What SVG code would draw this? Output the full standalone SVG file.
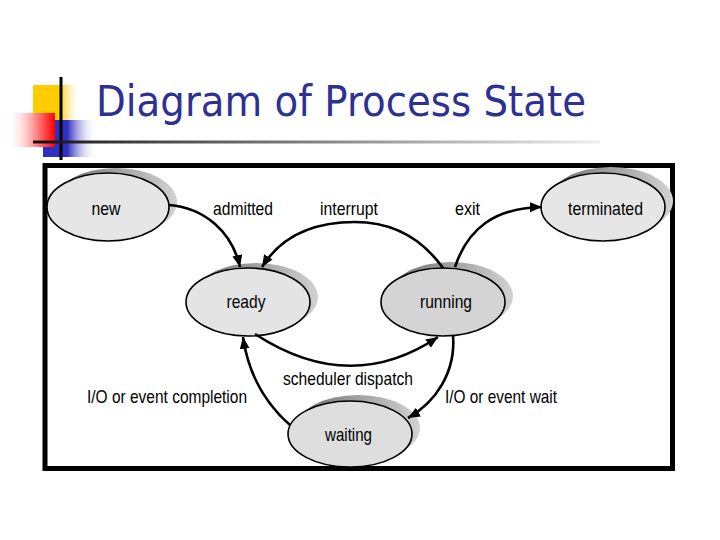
<svg xmlns="http://www.w3.org/2000/svg" width="720" height="540" viewBox="0 0 720 540">
<defs>
<linearGradient id="gY" x1="0" y1="0" x2="1" y2="0"><stop offset="0" stop-color="#ffcc00"/><stop offset="0.55" stop-color="#ffcc00"/><stop offset="1" stop-color="#ffffff" stop-opacity="0"/></linearGradient>
<linearGradient id="gB" x1="0" y1="0" x2="1" y2="0"><stop offset="0" stop-color="#2f2fc0"/><stop offset="0.45" stop-color="#2f2fc0"/><stop offset="1" stop-color="#ffffff" stop-opacity="0"/></linearGradient>
<linearGradient id="gR" x1="0" y1="0" x2="1" y2="0"><stop offset="0" stop-color="#ffffff" stop-opacity="0.3"/><stop offset="0.6" stop-color="#ff8080"/><stop offset="1" stop-color="#ff0000"/></linearGradient>
<linearGradient id="gL" x1="0" y1="0" x2="1" y2="0"><stop offset="0" stop-color="#111111"/><stop offset="0.2" stop-color="#444444"/><stop offset="1" stop-color="#eeeeee"/></linearGradient>
<linearGradient id="gS" x1="0" y1="0" x2="1" y2="0"><stop offset="0" stop-color="#6e6e6e"/><stop offset="1" stop-color="#d2d2d2"/></linearGradient>
<marker id="arr" markerUnits="userSpaceOnUse" markerWidth="14" markerHeight="12" refX="12" refY="5" orient="auto"><path d="M0,0 L12,5 L0,10 Z" fill="#000"/></marker>
<style>
.shadow{fill:url(#gS);stroke:none}
.node{stroke:#000;stroke-width:1.6}
.lbl{font-family:"Liberation Sans",Arial,sans-serif;font-size:19px;fill:#000}
.edge{fill:none;stroke:#000;stroke-width:2.6;marker-end:url(#arr)}
</style>
</defs>
<rect width="720" height="540" fill="#ffffff"/>
<g id="logo">
<rect x="33" y="85" width="48" height="35" fill="url(#gY)"/>
<rect x="43" y="120" width="54" height="37" fill="url(#gB)"/>
<rect x="10" y="113" width="45" height="34" fill="url(#gR)"/>
<rect x="59.5" y="77" width="3" height="83" fill="#000"/>
<rect x="33" y="140.5" width="567" height="3" fill="url(#gL)"/>
</g>
<text id="title" x="96" y="116" font-family="'DejaVu Sans',Tahoma,sans-serif" font-size="43" fill="#2e3192" textLength="490" lengthAdjust="spacingAndGlyphs">Diagram of Process State</text>
<rect id="frame" x="45" y="165.5" width="627.5" height="303" fill="none" stroke="#000" stroke-width="5"/>
<g id="new">
<ellipse class="shadow" cx="116" cy="202" rx="61" ry="34"/>
<ellipse class="node" cx="108" cy="207" rx="61" ry="34" fill="#e6e6e6"/>
<text class="lbl" x="106" y="215" text-anchor="middle" textLength="29" lengthAdjust="spacingAndGlyphs">new</text>
</g>
<g id="ready">
<ellipse class="shadow" cx="256" cy="297" rx="62" ry="34"/>
<ellipse class="node" cx="248" cy="302" rx="62" ry="34" fill="#e4e4e4"/>
<text class="lbl" x="246" y="308" text-anchor="middle" textLength="39" lengthAdjust="spacingAndGlyphs">ready</text>
</g>
<g id="running">
<ellipse class="shadow" cx="451" cy="296" rx="62" ry="34"/>
<ellipse class="node" cx="443" cy="302" rx="62" ry="34" fill="#d4d4d4"/>
<text class="lbl" x="446" y="308" text-anchor="middle" textLength="52" lengthAdjust="spacingAndGlyphs">running</text>
</g>
<g id="terminated">
<ellipse class="shadow" cx="611" cy="201" rx="62" ry="34"/>
<ellipse class="node" cx="603" cy="207" rx="62" ry="34" fill="#e6e6e6"/>
<text class="lbl" x="605.5" y="215" text-anchor="middle" textLength="75" lengthAdjust="spacingAndGlyphs">terminated</text>
</g>
<g id="waiting">
<ellipse class="shadow" cx="358" cy="428" rx="62" ry="33"/>
<ellipse class="node" cx="350" cy="434" rx="62" ry="33" fill="#dedede"/>
<text class="lbl" x="348.5" y="441" text-anchor="middle" textLength="47" lengthAdjust="spacingAndGlyphs">waiting</text>
</g>
<g id="connectors">
<path class="edge" d="M169,205 C205,208 232,232 240,267"/>
<path class="edge" d="M443,268 Q410,222 355,222 Q290,222 262,267"/>
<path class="edge" d="M455,267 C468,228 495,208 542,207"/>
<path class="edge" d="M255,334 Q350,396 438,337"/>
<path class="edge" d="M290,425 C264,402 248,372 243,337"/>
<path class="edge" d="M453,335 C456,372 436,402 408,418"/>
</g>
<g id="labels">
<text class="lbl" x="213" y="215" textLength="60" lengthAdjust="spacingAndGlyphs">admitted</text>
<text class="lbl" x="320" y="215" textLength="58" lengthAdjust="spacingAndGlyphs">interrupt</text>
<text class="lbl" x="455" y="215" textLength="25" lengthAdjust="spacingAndGlyphs">exit</text>
<text class="lbl" x="283" y="385" textLength="130" lengthAdjust="spacingAndGlyphs">scheduler dispatch</text>
<text class="lbl" x="87" y="403" textLength="160" lengthAdjust="spacingAndGlyphs">I/O or event completion</text>
<text class="lbl" x="445" y="403" textLength="112" lengthAdjust="spacingAndGlyphs">I/O or event wait</text>
</g>
</svg>
